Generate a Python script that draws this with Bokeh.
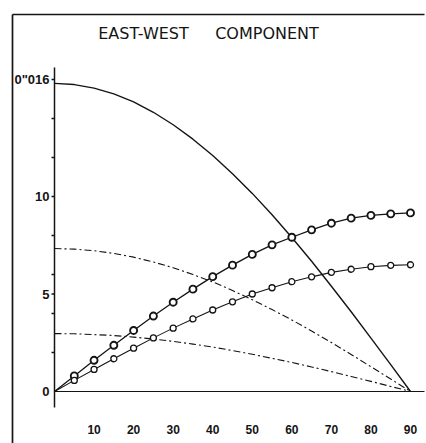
import numpy as np
from bokeh.plotting import figure
from bokeh.models import Range1d
from bokeh.core.properties import value
from bokeh.embed import file_html
from bokeh.resources import INLINE

# ---------------- data ----------------
angle = [0, 5, 10, 15, 20, 25, 30, 35, 40, 45, 50, 55, 60, 65, 70, 75, 80, 85, 90]
solid_curve = [15.8, 15.74, 15.56, 15.26, 14.85, 14.32, 13.68, 12.94, 12.1, 11.17,
               10.16, 9.06, 7.9, 6.68, 5.4, 4.09, 2.74, 1.38, 0.0]
dashdot_high = [7.33, 7.30, 7.22, 7.08, 6.89, 6.64, 6.35, 6.0, 5.62, 5.18,
                4.71, 4.2, 3.67, 3.1, 2.51, 1.9, 1.27, 0.64, 0.0]
dashdot_low = [2.97, 2.96, 2.92, 2.87, 2.79, 2.69, 2.57, 2.43, 2.28, 2.1,
               1.91, 1.7, 1.49, 1.26, 1.02, 0.77, 0.52, 0.26, 0.0]
circles_high = [0.0, 0.8, 1.6, 2.37, 3.13, 3.87, 4.58, 5.25, 5.89, 6.48,
                7.03, 7.52, 7.91, 8.29, 8.63, 8.89, 9.03, 9.11, 9.16]
circles_low = [0.0, 0.57, 1.13, 1.68, 2.22, 2.75, 3.25, 3.72, 4.18, 4.6,
               5.0, 5.32, 5.63, 5.88, 6.11, 6.27, 6.4, 6.47, 6.5]

x_tick_values = [10, 20, 30, 40, 50, 60, 70, 80, 90]
x_tick_labels = ["10", "20", "30", "40", "50", "60", "70", "80", "90"]
y_tick_marks = [2, 4, 5, 6, 8, 10, 12, 14, 16]
y_label_values = [0, 5, 10, 16]
y_label_texts = ["0", "5", "10", '0"016']
title_parts = ["EAST-WEST", "COMPONENT"]

# ---------------- layout (canvas pixels) ----------------
W, H = 426, 443
X0 = 54.0            # canvas x of angle 0
KX = 356.0 / 90.0    # px per degree
Y0 = 391.0           # canvas y of value 0
KY = 19.5            # px per unit


def dx(px):
    return (px - X0) / KX


def dy(py):
    return (Y0 - py) / KY


p = figure(width=W, height=H, title=None,
           x_range=Range1d(dx(0), dx(W)), y_range=Range1d(dy(H), dy(0)),
           output_backend="svg", toolbar_location=None,
           x_axis_location=None, y_axis_location=None, min_border=0,
           background_fill_color="white", border_fill_color="white",
           outline_line_color=None)
p.grid.grid_line_color = None

INK = "#141414"

# frame border (left and top)
p.segment(x0=[dx(12), dx(12)], y0=[dy(H), dy(14)],
          x1=[dx(12), dx(W - 2)], y1=[dy(14), dy(14)],
          line_color=INK, line_width=1.7)

# title
p.text(x=[dx(143), dx(266.5)], y=[dy(33), dy(33)], text=title_parts,
       text_align="center", text_baseline="alphabetic",
       text_font=value("DejaVu Sans"), text_font_size="16px", text_color=INK)

# axes
p.line(x=[0, 0], y=[dy(67), dy(407)], line_color=INK, line_width=1.5)
p.line(x=[0, dx(W - 2)], y=[0, 0], line_color=INK, line_width=1.2)
p.ray(x=[0] * len(y_tick_marks), y=y_tick_marks, length=3, length_units="screen",
      angle=np.pi, line_color=INK, line_width=1.3)

p.text(x=[0] * len(y_label_values), y=y_label_values, text=y_label_texts,
       x_offset=-5, text_align="right", text_baseline="middle",
       text_font=value("Liberation Sans"), text_font_style="bold",
       text_font_size="13px", text_color=INK)
p.text(x=x_tick_values, y=[0] * len(x_tick_values), text=x_tick_labels,
       y_offset=38, text_align="center", text_baseline="middle",
       text_font=value("Liberation Sans"), text_font_style="bold",
       text_font_size="12px", text_color=INK)

# curves
p.line(angle, solid_curve, line_color=INK, line_width=1.4)
p.line(angle, dashdot_high, line_color=INK, line_width=1.1, line_dash="7 3 2 3")
p.line(angle, dashdot_low, line_color=INK, line_width=1.1, line_dash="7 3 2 3")
p.line(angle, circles_high, line_color=INK, line_width=1.3)
p.line(angle, circles_low, line_color=INK, line_width=1.1)
p.scatter(angle[1:], circles_high[1:], marker="circle", size=7,
          line_color=INK, line_width=1.9, fill_color="white")
p.scatter(angle[1:], circles_low[1:], marker="circle", size=6,
          line_color=INK, line_width=1.3, fill_color="white")

open("out.html", "w").write(file_html(p, INLINE))
